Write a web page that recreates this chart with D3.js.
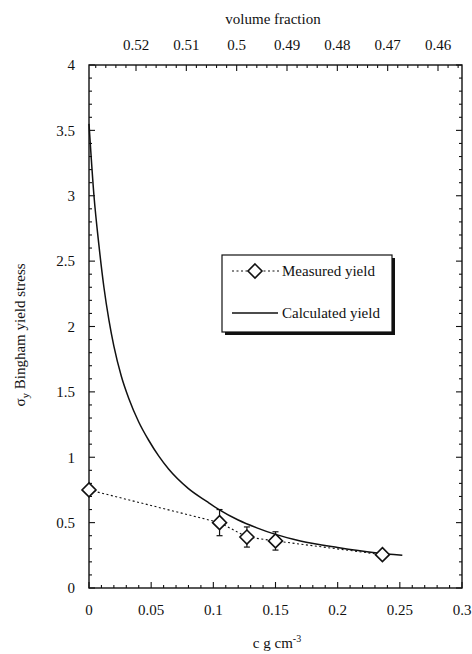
<!DOCTYPE html>
<html>
<head>
<meta charset="utf-8">
<script src="https://cdn.jsdelivr.net/npm/d3@7"></script>
<style>
  html, body { margin: 0; padding: 0; background: #fff; }
  svg { display: block; }
</style>
</head>
<body>
<svg id="chart" width="472" height="654" font-family="'Liberation Serif', 'DejaVu Serif', serif"></svg>
<script>
// Measured Bingham yield stress vs concentration
const measuredC = [0, 0.105, 0.127, 0.15, 0.236];
const measuredY = [0.75, 0.50, 0.39, 0.36, 0.255];
const measuredErr = [0, 0.10, 0.077, 0.07, 0.015];

// Calculated yield curve
const calcC = [0, 0.004, 0.008, 0.012, 0.016, 0.02, 0.026, 0.032, 0.04, 0.048, 0.056, 0.064, 0.08, 0.095, 0.1046, 0.12, 0.135, 0.15, 0.17, 0.2, 0.23, 0.252];
const calcY = [3.55, 3.0, 2.62, 2.30, 2.05, 1.85, 1.62, 1.45, 1.27, 1.13, 1.01, 0.91, 0.76, 0.66, 0.60, 0.52, 0.46, 0.41, 0.36, 0.31, 0.27, 0.25];

// Axis tick labels
const xTicks = [0, 0.05, 0.1, 0.15, 0.2, 0.25, 0.3];
const xTickLabels = ["0", "0.05", "0.1", "0.15", "0.2", "0.25", "0.3"];
const yTicks = [0, 0.5, 1, 1.5, 2, 2.5, 3, 3.5, 4];
const yTickLabels = ["0", "0.5", "1", "1.5", "2", "2.5", "3", "3.5", "4"];
const vfTicks = [0.52, 0.51, 0.5, 0.49, 0.48, 0.47, 0.46];
const vfTickLabels = ["0.52", "0.51", "0.5", "0.49", "0.48", "0.47", "0.46"];

const legendLabels = ["Measured yield", "Calculated yield"];

const svg = d3.select("#chart");
const L = 89, R = 462, T = 65, B = 588;

const x = d3.scaleLinear().domain([0, 0.3]).range([L, R]);
const y = d3.scaleLinear().domain([0, 4]).range([B, T]);
const vf = d3.scaleLinear().domain([0.52, 0.46]).range([136, 438]);

const FS = 15;
const minor = 3, major = 6;
const ink = "#111";

// frame
svg.append("rect").attr("x", L).attr("y", T).attr("width", R - L).attr("height", B - T)
  .attr("fill", "none").attr("stroke", ink).attr("stroke-width", 1.4);

const tickG = svg.append("g").attr("stroke", ink).attr("stroke-width", 1.1);

// bottom ticks
d3.range(0, 31).forEach(i => {
  const v = i / 100;
  const len = (i % 5 === 0) ? major : minor;
  tickG.append("line").attr("x1", x(v)).attr("x2", x(v)).attr("y1", B).attr("y2", B - len);
});
// left & right ticks
d3.range(0, 41).forEach(i => {
  const v = i / 10;
  const len = (i % 5 === 0) ? major : minor;
  tickG.append("line").attr("x1", L).attr("x2", L + len).attr("y1", y(v)).attr("y2", y(v));
  tickG.append("line").attr("x1", R).attr("x2", R - len).attr("y1", y(v)).attr("y2", y(v));
});
// top volume-fraction ticks
const vfMax = vf.invert(L), vfMin = vf.invert(R);
for (let k = Math.ceil(vfMin * 500 - 1e-6); k <= Math.floor(vfMax * 500 + 1e-6); k++) {
  const v = k / 500;
  const isMajor = (k % 5 === 0);
  tickG.append("line").attr("x1", vf(v)).attr("x2", vf(v)).attr("y1", T).attr("y2", T + (isMajor ? major : minor));
}

// tick labels
const txt = svg.append("g").attr("fill", ink);
txt.append("g").selectAll("text").data(xTicks).join("text")
  .attr("x", d => x(d)).attr("y", 615).attr("text-anchor", "middle").attr("font-size", FS)
  .text((d, i) => xTickLabels[i]);
txt.append("g").selectAll("text").data(yTicks).join("text")
  .attr("x", 75).attr("y", d => y(d)).attr("dy", "0.35em").attr("text-anchor", "end").attr("font-size", FS)
  .text((d, i) => yTickLabels[i]);
txt.append("g").selectAll("text").data(vfTicks).join("text")
  .attr("x", d => vf(d)).attr("y", 50).attr("text-anchor", "middle").attr("font-size", FS)
  .text((d, i) => vfTickLabels[i]);

// axis titles
txt.append("text").attr("x", 273).attr("y", 24).attr("text-anchor", "middle").attr("font-size", FS)
  .text("volume fraction");
const xt = txt.append("text").attr("x", 277).attr("y", 648).attr("text-anchor", "middle").attr("font-size", FS);
xt.append("tspan").text("c g cm");
xt.append("tspan").attr("dy", -6).attr("font-size", 10).text("-3");

const yt = txt.append("text").attr("transform", "translate(25,335) rotate(-90)")
  .attr("text-anchor", "middle").attr("font-size", FS);
yt.append("tspan").text("σ");
yt.append("tspan").attr("dy", 4).attr("font-size", 11).text("y");
yt.append("tspan").attr("dy", -4).text(" Bingham yield stress");

// calculated curve
const calcData = calcC.map((c, i) => [c, calcY[i]]);
svg.append("path").datum(calcData)
  .attr("d", d3.line().x(d => x(d[0])).y(d => y(d[1])).curve(d3.curveMonotoneX))
  .attr("fill", "none").attr("stroke", ink).attr("stroke-width", 1.5);

// measured dotted line
const measData = measuredC.map((c, i) => ({ c, v: measuredY[i], e: measuredErr[i] }));
svg.append("path").datum(measData)
  .attr("d", d3.line().x(d => x(d.c)).y(d => y(d.v)))
  .attr("fill", "none").attr("stroke", ink).attr("stroke-width", 1.1).attr("stroke-dasharray", "2,2.5");

// error bars
const eg = svg.append("g").attr("stroke", ink).attr("stroke-width", 1.2);
measData.filter(d => d.e > 0).forEach(d => {
  eg.append("line").attr("x1", x(d.c)).attr("x2", x(d.c)).attr("y1", y(d.v - d.e)).attr("y2", y(d.v + d.e));
  [d.v - d.e, d.v + d.e].forEach(v => {
    eg.append("line").attr("x1", x(d.c) - 3).attr("x2", x(d.c) + 3).attr("y1", y(v)).attr("y2", y(v));
  });
});

// diamonds
const diamond = (cx, cy, r) => `M${cx},${cy - r}L${cx + r},${cy}L${cx},${cy + r}L${cx - r},${cy}Z`;
svg.append("g").selectAll("path").data(measData).join("path")
  .attr("d", d => diamond(x(d.c), y(d.v), 7))
  .attr("fill", "#fff").attr("stroke", ink).attr("stroke-width", 1.6);

// legend
const lg = svg.append("g");
lg.append("rect").attr("x", 225).attr("y", 258).attr("width", 170).attr("height", 77).attr("fill", ink);
lg.append("rect").attr("x", 222).attr("y", 255).attr("width", 170).attr("height", 77)
  .attr("fill", "#fff").attr("stroke", ink).attr("stroke-width", 1.2);
lg.append("line").attr("x1", 232).attr("x2", 279).attr("y1", 271).attr("y2", 271)
  .attr("stroke", ink).attr("stroke-width", 1.1).attr("stroke-dasharray", "2,2.5");
lg.append("path").attr("d", diamond(255, 271, 7)).attr("fill", "#fff").attr("stroke", ink).attr("stroke-width", 1.6);
lg.append("line").attr("x1", 232).attr("x2", 278).attr("y1", 313).attr("y2", 313)
  .attr("stroke", ink).attr("stroke-width", 1.3);
lg.selectAll("text.lab").data(legendLabels).join("text").attr("class", "lab")
  .attr("fill", ink).attr("x", 282).attr("y", (d, i) => i === 0 ? 276 : 318).attr("font-size", FS).text(d => d);
</script>
</body>
</html>
